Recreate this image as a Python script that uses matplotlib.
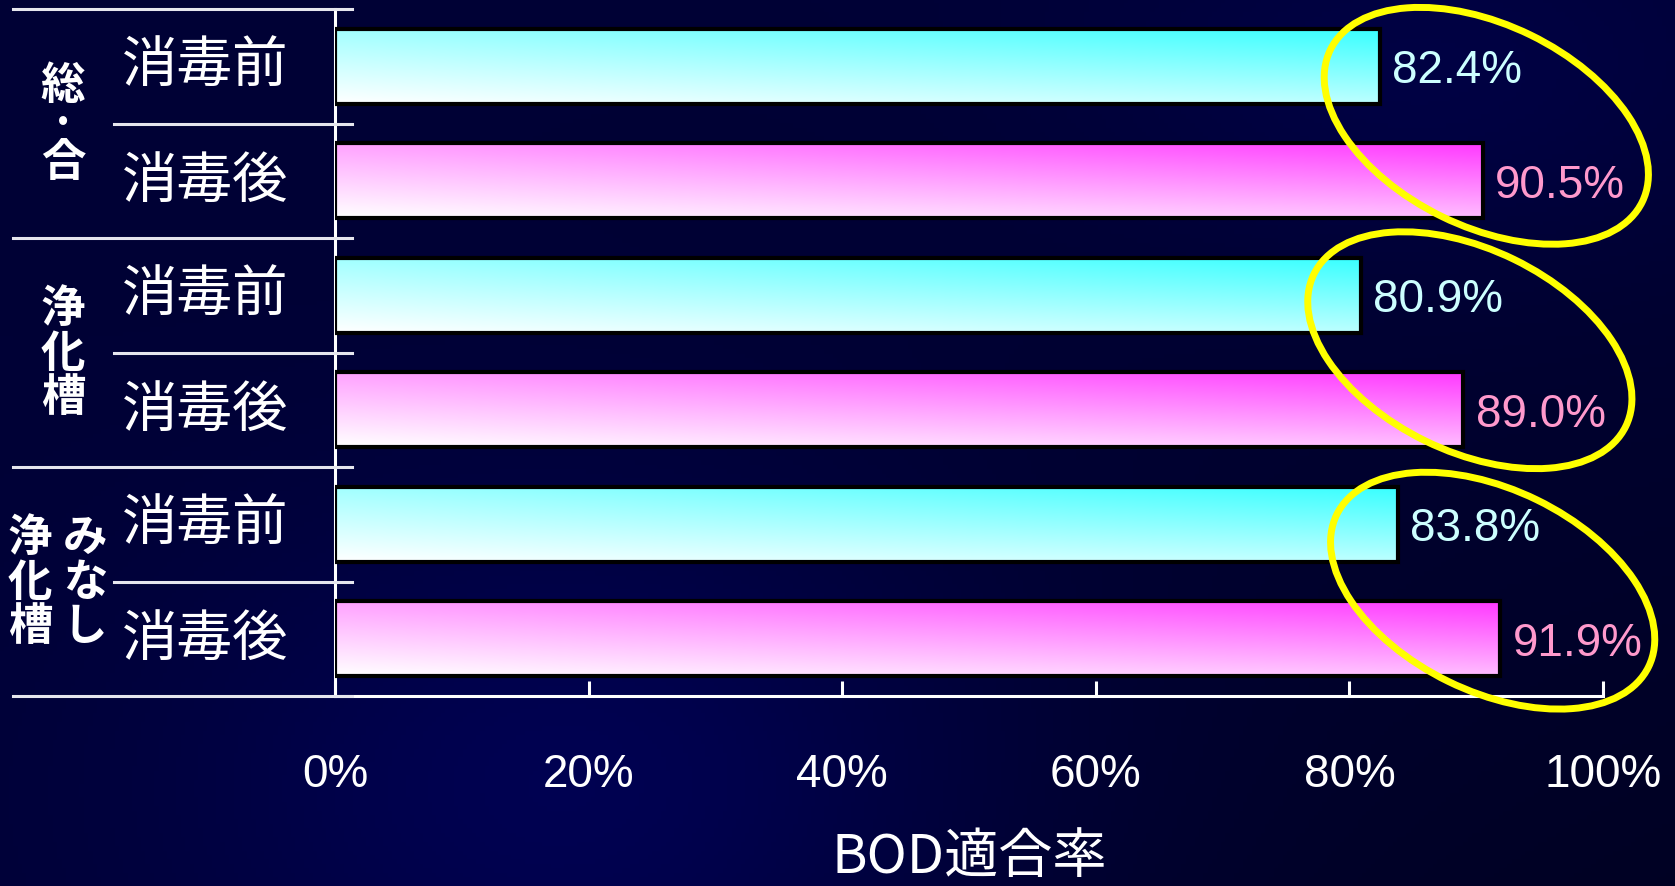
import numpy as np
import matplotlib
matplotlib.use('Agg')
import matplotlib.pyplot as plt
from matplotlib import font_manager
from matplotlib.patches import Ellipse
from matplotlib.transforms import IdentityTransform, blended_transform_factory

# --- data ---
conditions = ['消毒前', '消毒後', '消毒前', '消毒後', '消毒前', '消毒後']
values = [82.4, 90.5, 80.9, 89.0, 83.8, 91.9]
group_labels = [['総\n·\n合'], ['浄\n化\n槽'], ['浄\n化\n槽', 'み\nな\nし']]
xticks = [0, 20, 40, 60, 80, 100]
xlabel = 'BOD適合率'

# annotation ellipses (x in %, y in category units)
ellipse_x = [90.8, 89.5, 91.3]
ellipse_y = [0.52, 2.48, 4.58]

CJK = 'Noto Sans CJK JP'
names = {f.name for f in font_manager.fontManager.ttflist}
if 'Liberation Sans Narrow' in names:
    num_font, num_size = 'Liberation Sans Narrow', 38
else:
    num_font, num_size = 'Liberation Sans', 33

fig = plt.figure(figsize=(16.75, 8.87), dpi=100)

# background
bg = fig.add_axes([0, 0, 1, 1], zorder=-10)
bg.axis('off')
yy, xx = np.mgrid[0:1:200j, 0:1:380j]
blue = (0.21 + 0.13 * np.exp(-((xx - 0.35) ** 2 / 0.06 + (yy - 0.9) ** 2 / 0.12))
        + 0.06 * np.exp(-((xx - 0.85) ** 2 / 0.04 + (yy - 0.1) ** 2 / 0.04))
        - 0.07 * xx * yy)
img = np.dstack([np.zeros_like(blue), np.zeros_like(blue) + 0.005, blue])
bg.imshow(np.clip(img, 0, 1), extent=[0, 1, 0, 1], aspect='auto')
bg.set_xlim(0, 1)
bg.set_ylim(0, 1)

ax = fig.add_axes([0.2, 0.2142, 0.757, 0.7745])
ax.set_facecolor('none')

y = np.arange(len(values))
bar_h = 0.655
bars = ax.barh(y, values, height=bar_h, facecolor='none', edgecolor='black',
               linewidth=3, zorder=3)

full_colors = [(0.13, 1, 1), (1, 0.13, 1)]
label_colors = ['#CCFFFF', '#FF99CC']


def bar_gradient(rgb, n=64):
    u = np.linspace(0, 1, n)[None, :]
    v = np.linspace(1, 0, n)[:, None]
    s = np.clip(0.42 * v + 0.3 * u + 0.17 * u * v, 0, 1)
    return 1 - s[..., None] * (1 - np.array(rgb))


for i, (bar, val) in enumerate(zip(bars, values)):
    x0, y0 = bar.get_x(), bar.get_y()
    w, h = bar.get_width(), bar.get_height()
    im = ax.imshow(bar_gradient(full_colors[i % 2]), extent=[x0, x0 + w, y0 + h, y0],
                   aspect='auto', zorder=2)
    im.set_clip_path(bar)
    ax.annotate(f'{val:.1f}%', (val, y[i]), xytext=(9, -3), textcoords='offset points',
                ha='left', va='center', color=label_colors[i % 2],
                fontsize=num_size, family=num_font)

ax.set_xlim(0, 100)
ax.set_ylim(len(values) - 0.5, -0.5)
ax.set_yticks([])
ax.set_xticks(xticks)
ax.set_xticklabels([f'{t}%' for t in xticks])
for lbl in ax.get_xticklabels():
    lbl.set_fontfamily(num_font)
ax.tick_params(axis='x', direction='in', length=11, width=2.2, color='white',
               labelcolor='white', labelsize=num_size, pad=40)
for side in ['top', 'right']:
    ax.spines[side].set_visible(False)
for side in ['left', 'bottom']:
    ax.spines[side].set_color('white')
    ax.spines[side].set_linewidth(2.2)

ax.set_xlabel(xlabel, fontsize=39, color='white', family=CJK)
ax.xaxis.set_label_coords(0.5, -0.233)
ax.xaxis.label.set_va('center')

# left table lines and labels
trans = blended_transform_factory(ax.transAxes, ax.transData)
for b in np.arange(-0.5, len(values), 1):
    x_start = -0.254 if int(b + 0.5) % 2 == 0 else -0.174
    ax.plot([x_start, 0.0134], [b, b], color='#E6E6EE', lw=2.2,
            transform=trans, clip_on=False, zorder=4)

for i, cond in enumerate(conditions):
    ax.text(-0.1025, y[i], cond, transform=trans, ha='center', va='center',
            color='white', fontsize=40, family=CJK)

group_x = [[-0.2145], [-0.2145], [-0.2405, -0.197]]
group_spacing = [0.8, 0.95, 0.95]
for g, labels in enumerate(group_labels):
    for lab, gx in zip(labels, group_x[g]):
        ax.text(gx, 2 * g + 0.5, lab, transform=trans, ha='center', va='center',
                color='white', fontsize=32, fontweight='bold',
                family=[CJK, 'DejaVu Sans'], linespacing=group_spacing[g])

# yellow ellipses (drawn in pixel space so the angle stays true)
fig.canvas.draw()
for ex, ey in zip(ellipse_x, ellipse_y):
    cx, cy = ax.transData.transform((ex, ey))
    e = Ellipse((cx, cy), 347, 202, angle=-26, fill=False, edgecolor='#FFFF00',
                linewidth=5, transform=IdentityTransform(), clip_on=False, zorder=6)
    ax.add_patch(e)

fig.savefig('out.png', dpi=100)
